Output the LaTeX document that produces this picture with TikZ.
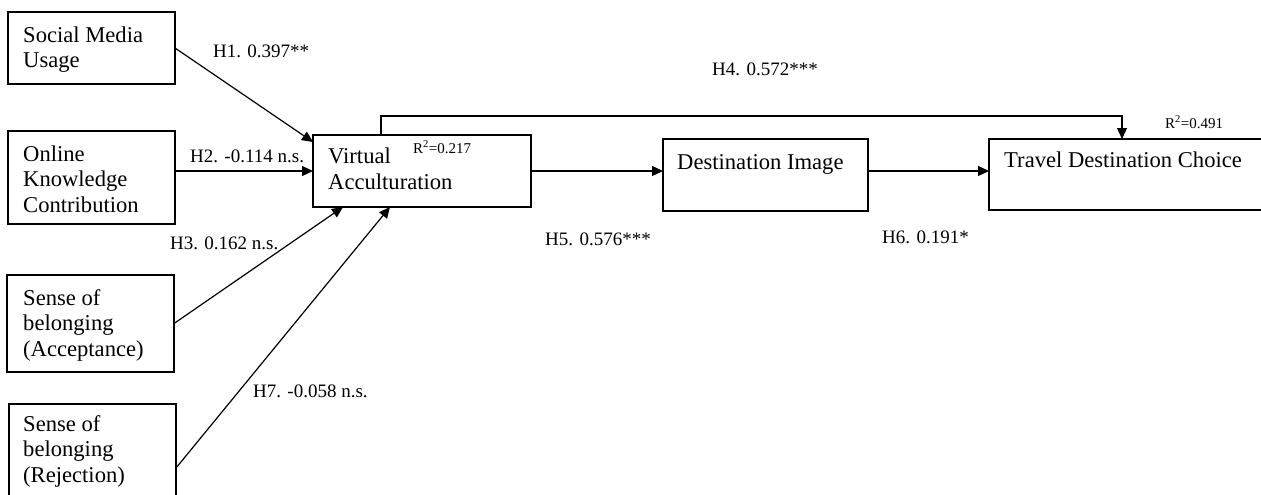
\documentclass[tikz,border=0pt]{standalone}
\usepackage{fontspec}
\setmainfont{Liberation Serif}
\usetikzlibrary{arrows.meta,calc}
\begin{document}
\begin{tikzpicture}[x=1pt,y=-1pt,
  box/.style={draw, line width=1.2pt, anchor=north west, inner sep=0pt, outer sep=0pt},
  txt/.style={anchor=base west, inner sep=0pt, align=left, font=\fontsize{22.6}{25.5}\selectfont},
  lbl/.style={anchor=base west, inner sep=0pt, font=\fontsize{19}{22}\selectfont},
  rsq/.style={anchor=base west, inner sep=0pt, font=\fontsize{15}{17}\selectfont},
  arr/.style={line width=1.2pt, -{Triangle[length=11pt,width=10pt]}}]
\useasboundingbox (0,0) rectangle (1261,495);
% boxes
\node[box, minimum width=167pt, minimum height=72pt] (smu) at (8,12) {};
\node[box, minimum width=167pt, minimum height=93pt] (okc) at (8,131) {};
\node[box, minimum width=167pt, minimum height=97pt] (acc) at (7,275) {};
\node[box, minimum width=167pt, minimum height=128pt] (rej) at (9,404) {};
\node[box, minimum width=218pt, minimum height=72pt] (va) at (313,135) {};
\node[box, minimum width=205pt, minimum height=72pt] (di) at (663,139) {};
\node[box, minimum width=290pt, minimum height=71pt] (tdc) at (989,139) {};
% box texts (anchored at the baseline of the last line)
\node[txt] (tsmu) at (23,68) {Social Media\\Usage};
\node[txt] (tokc) at (23,212) {Online\\Knowledge\\Contribution};
\node[txt] (tacc) at (23,356) {Sense of\\belonging\\(Acceptance)};
\node[txt] (trej) at (23,482) {Sense of\\belonging\\(Rejection)};
\node[txt] (tva) at (328,189) {Virtual\\Acculturation};
\node[txt] (tdi) at (677,169) {Destination Image};
\node[txt] (ttdc) at (1004,167) {Travel Destination Choice};
% R squared
\node[rsq] (r1) at (413,153) {R\textsuperscript{2}=0.217};
\node[rsq] (r2) at (1165,128) {R\textsuperscript{2}=0.491};
% connectors
\draw[arr] (smu.east) -- ([yshift=-7pt]va.north west);
\draw[arr] (okc.east |- va.west) -- (va.west);
\draw[arr] (acc.east) -- ([xshift=30pt]va.south west);
\draw[arr] (rej.east) -- ([xshift=77pt]va.south west);
\draw[arr] (va.east) -- (va.east -| di.west);
\draw[arr] (di.east |- va.east) -- (va.east -| tdc.west);
\draw[arr] ([xshift=68pt]va.north west) -- ++(0,-19) -| ([xshift=133pt]tdc.north west);
% labels
\node[lbl] (h1) at (213,58) {H1. 0.397**};
\node[lbl] (h2) at (190,162) {H2. -0.114 n.s.};
\node[lbl] (h3) at (170,249) {H3. 0.162 n.s.};
\node[lbl] (h7) at (253,397) {H7. -0.058 n.s.};
\node[lbl] (h4) at (712,75) {H4. 0.572***};
\node[lbl] (h5) at (545,245) {H5. 0.576***};
\node[lbl] (h6) at (882,243) {H6. 0.191*};
\end{tikzpicture}
\end{document}
